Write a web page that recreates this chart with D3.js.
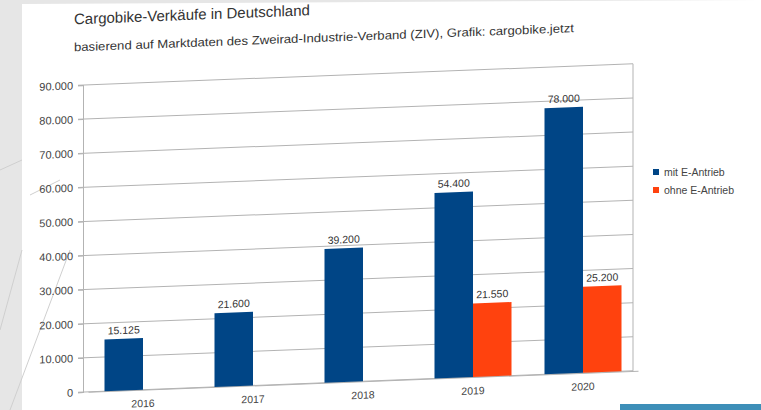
<!DOCTYPE html>
<html><head><meta charset="utf-8">
<script src="https://cdn.jsdelivr.net/npm/d3@7"></script>
<style>body{margin:0;background:#fff}svg{display:block}</style>
</head><body>
<svg id="c" width="761" height="410"></svg>
<script>
const title = "Cargobike-Verkäufe in Deutschland";
const subtitle = "basierend auf Marktdaten des Zweirad-Industrie-Verband (ZIV), Grafik: cargobike.jetzt";
const years = ["2016", "2017", "2018", "2019", "2020"];
const seriesNames = ["mit E-Antrieb", "ohne E-Antrieb"];
const mitE = [15125, 21600, 39200, 54400, 78000];
const ohneE = [0, 0, 0, 21550, 25200];
const yTicks = [0, 10000, 20000, 30000, 40000, 50000, 60000, 70000, 80000, 90000];
const colors = ["#004586", "#ff420e"];

const W = 761, H = 410;
const svg = d3.select("#c");
const font = "'Liberation Sans', Arial, sans-serif";

// photo-like background
svg.append("rect").attr("width", W).attr("height", H).attr("fill", "#e6e6e6");
svg.append("path").attr("d", "M22,4 L761,0 L761,410 L22,410 Z").attr("fill", "#ffffff");
svg.append("path").attr("d", "M0,170 L22,160 M0,330 L22,250 M30,195 L60,180 M10,410 L70,250").attr("stroke", "#cfcfcf").attr("fill", "none");
svg.append("rect").attr("x", 620).attr("y", 404).attr("width", 141).attr("height", 6).attr("fill", "#3d8fb8");

const m = {left: 83, right: 633, top: 85, bottom: 392};
const ang = -2.2;
const k = Math.tan(ang * Math.PI / 180);
const g = svg.append("g").attr("transform", `translate(0,${-k * m.left}) skewY(${ang})`);

g.append("text").attr("x", 74).attr("y", 24).attr("font-family", font).attr("font-size", 15).attr("fill", "#333").text(title);
g.append("text").attr("x", 74).attr("y", 51).attr("font-family", font).attr("font-size", 12)
  .attr("textLength", 500).attr("lengthAdjust", "spacingAndGlyphs").attr("fill", "#333").text(subtitle);

const x0 = d3.scaleBand().domain(years).range([m.left + 5, m.right + 5]).paddingInner(0.3).paddingOuter(0.15);
const x1 = d3.scaleBand().domain(seriesNames).range([0, x0.bandwidth()]);
const y = d3.scaleLinear().domain([0, 90000]).range([m.bottom, m.top]);
const loc = d3.formatLocale({decimal: ",", thousands: ".", grouping: [3], currency: ["", "€"]});
const fmt = loc.format(",d");

// gridlines
g.append("g").selectAll("line").data(yTicks).join("line")
  .attr("x1", m.left - 5).attr("x2", m.right).attr("y1", d => y(d)).attr("y2", d => y(d))
  .attr("stroke", "#b3b3b3").attr("stroke-width", 1);
g.append("line").attr("x1", m.right).attr("x2", m.right).attr("y1", m.top).attr("y2", m.bottom).attr("stroke", "#b3b3b3");

// y axis
const ya = g.append("g").attr("transform", `translate(${m.left},0)`)
  .call(d3.axisLeft(y).tickValues(yTicks).tickFormat(fmt).tickSize(5).tickPadding(5));
ya.select(".domain").attr("stroke", "#b3b3b3");
ya.selectAll(".tick line").attr("stroke", "#b3b3b3");
ya.selectAll("text").attr("font-family", font).attr("font-size", 11).attr("fill", "#444");

// x axis
const xa = g.append("g").attr("transform", `translate(0,${m.bottom})`)
  .call(d3.axisBottom(x0).tickSize(0).tickPadding(10));
xa.select(".domain").attr("stroke", "#b3b3b3");
xa.selectAll("text").attr("font-family", font).attr("font-size", 10.5).attr("fill", "#444");

const rows = years.map((yr, i) => ({yr, vals: [mitE[i], ohneE[i]]}));
const grp = g.append("g").selectAll("g").data(rows).join("g").attr("transform", d => `translate(${x0(d.yr)},0)`);
grp.selectAll("rect").data(d => d.vals.map((v, j) => ({v, j}))).join("rect")
  .attr("x", d => x1(seriesNames[d.j])).attr("width", x1.bandwidth())
  .attr("y", d => y(d.v)).attr("height", d => y(0) - y(d.v))
  .attr("fill", d => colors[d.j]);
grp.selectAll("text").data(d => d.vals.map((v, j) => ({v, j})).filter(d => d.v > 0)).join("text")
  .attr("x", d => x1(seriesNames[d.j]) + x1.bandwidth() / 2).attr("y", d => y(d.v) - 5)
  .attr("text-anchor", "middle").attr("font-family", font).attr("font-size", 10.5).attr("fill", "#333")
  .text(d => fmt(d.v));

// legend
const lg = svg.append("g").attr("transform", "translate(653,172)");
seriesNames.forEach((s, i) => {
  lg.append("rect").attr("x", 0).attr("y", i * 18 - 3).attr("width", 6).attr("height", 6).attr("fill", colors[i]);
  lg.append("text").attr("x", 11).attr("y", i * 18 + 3.5).attr("font-family", font).attr("font-size", 10.5).attr("fill", "#444").text(s);
});
</script>
</body></html>
